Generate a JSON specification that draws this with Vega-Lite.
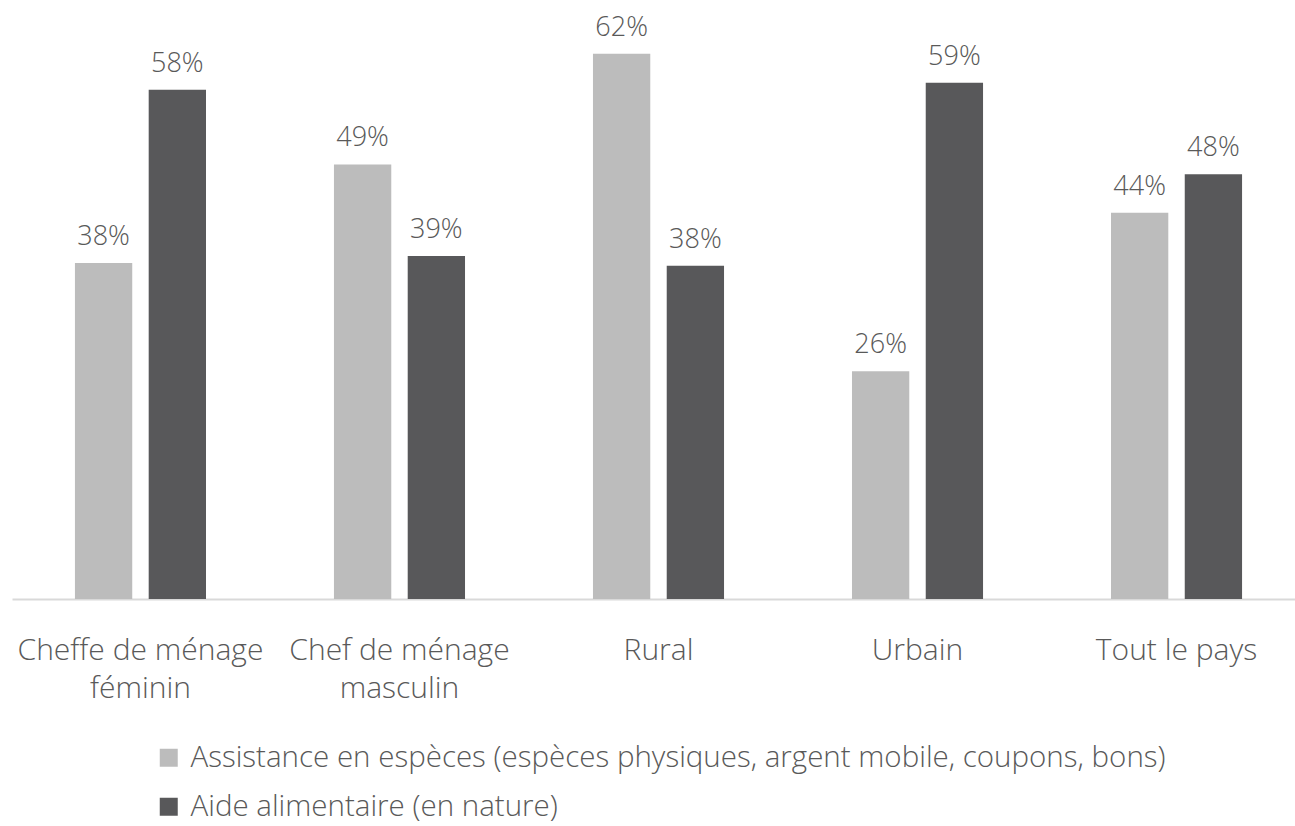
{
  "$schema": "https://vega.github.io/schema/vega-lite/v6.json",
  "width": 1283,
  "height": 599,
  "padding": {"left": 12, "top": 0, "right": 0, "bottom": 4},
  "autosize": {"type": "pad"},
  "background": "white",
  "config": {
    "view": {"stroke": null},
    "font": "Open Sans",
    "text": {"font": "Open Sans"}
  },
  "data": {
    "values": [
      {"groupe": "Cheffe de ménage féminin", "type": "Assistance en espèces (espèces physiques, argent mobile, coupons, bons)", "valeur": 0.382},
      {"groupe": "Cheffe de ménage féminin", "type": "Aide alimentaire (en nature)", "valeur": 0.579},
      {"groupe": "Chef de ménage masculin", "type": "Assistance en espèces (espèces physiques, argent mobile, coupons, bons)", "valeur": 0.494},
      {"groupe": "Chef de ménage masculin", "type": "Aide alimentaire (en nature)", "valeur": 0.390},
      {"groupe": "Rural", "type": "Assistance en espèces (espèces physiques, argent mobile, coupons, bons)", "valeur": 0.620},
      {"groupe": "Rural", "type": "Aide alimentaire (en nature)", "valeur": 0.379},
      {"groupe": "Urbain", "type": "Assistance en espèces (espèces physiques, argent mobile, coupons, bons)", "valeur": 0.259},
      {"groupe": "Urbain", "type": "Aide alimentaire (en nature)", "valeur": 0.587},
      {"groupe": "Tout le pays", "type": "Assistance en espèces (espèces physiques, argent mobile, coupons, bons)", "valeur": 0.439},
      {"groupe": "Tout le pays", "type": "Aide alimentaire (en nature)", "valeur": 0.483}
    ]
  },
  "encoding": {
    "x": {
      "field": "groupe", "type": "nominal", "sort": null,
      "scale": {"paddingInner": 0.494, "paddingOuter": 0.243, "range": [0, 1293]},
      "axis": {
        "title": null, "ticks": false, "domainColor": "#D9D9D9", "domainWidth": 2,
        "labelAngle": 0, "labelFont": "Open Sans", "labelFontWeight": 300, "labelFontSize": 30,
        "labelColor": "#595959", "labelPadding": 36, "labelBaseline": "top", "labelLineHeight": 38,
        "labelLimit": 0,
        "labelExpr": "datum.label == 'Cheffe de ménage féminin' ? ['Cheffe de ménage', 'féminin'] : datum.label == 'Chef de ménage masculin' ? ['Chef de ménage', 'masculin'] : datum.label"
      }
    },
    "xOffset": {
      "field": "type", "type": "nominal", "sort": null,
      "scale": {"paddingInner": 0.223, "paddingOuter": 0}
    },
    "y": {
      "field": "valeur", "type": "quantitative",
      "scale": {"domain": [0, 0.681], "nice": false},
      "axis": null
    }
  },
  "layer": [
    {
      "mark": {"type": "bar"},
      "encoding": {
        "color": {
          "field": "type", "type": "nominal", "sort": null,
          "scale": {
            "domain": ["Assistance en espèces (espèces physiques, argent mobile, coupons, bons)", "Aide alimentaire (en nature)"],
            "range": ["#BCBCBC", "#58585A"]
          },
          "legend": {
            "title": null, "orient": "none", "direction": "vertical",
            "legendX": 142, "legendY": 743,
            "symbolType": "square", "symbolSize": 324, "symbolStrokeWidth": 0,
            "labelFont": "Open Sans", "labelFontWeight": 300, "labelFontSize": 29.5, "labelColor": "#595959",
            "labelLimit": 1200, "rowPadding": 18, "labelOffset": 7, "padding": 0
          }
        }
      }
    },
    {
      "mark": {"type": "text", "baseline": "bottom", "dy": -12, "font": "Open Sans", "fontWeight": 300, "fontSize": 27, "color": "#595959"},
      "encoding": {
        "text": {"field": "valeur", "type": "quantitative", "format": ".0%"}
      }
    }
  ]
}
